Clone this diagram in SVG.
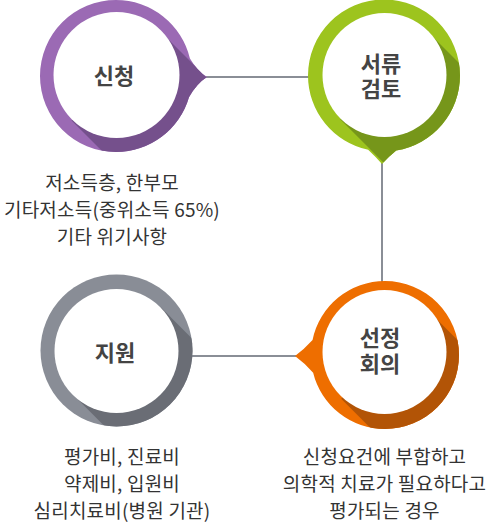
<svg xmlns="http://www.w3.org/2000/svg" width="490" height="523" viewBox="0 0 490 523">
<style>
.lbl{font-family:"Noto Sans CJK KR","Noto Sans",sans-serif;font-weight:700;font-size:22px;fill:#444;text-anchor:middle}
.desc{font-family:"Noto Sans CJK KR","Noto Sans",sans-serif;font-weight:400;font-size:19px;letter-spacing:0.2px;fill:#333;text-anchor:middle}
.conn{stroke:#8a8e96;stroke-width:2;fill:none}
.inner{fill:#fff}
</style>
<defs>
<clipPath id="c1"><circle cx="116" cy="76" r="76"/><path d="M188,55 Q196,70 207,77 Q196,84 188,99 Z"/></clipPath>
<clipPath id="c2"><circle cx="384" cy="75.5" r="76"/><path d="M364,146 Q374,155 382,164 Q390,155 402,146 Z"/></clipPath>
<clipPath id="c3"><circle cx="116.5" cy="350.5" r="76"/></clipPath>
<clipPath id="c4"><circle cx="385" cy="355" r="74"/><path d="M316,336 Q306,348 295,356 Q306,364 316,376 Z"/></clipPath>
</defs>
<g id="connectors">
<line class="conn" x1="205" y1="77" x2="310" y2="77"/>
<line class="conn" x1="382" y1="162" x2="382" y2="284"/>
<line class="conn" x1="190" y1="356" x2="297" y2="356"/>
</g>
<g id="node-apply">
<g clip-path="url(#c1)">
<rect x="0" y="0" width="240" height="170" fill="#9b6ab4"/>
<polygon points="160.5,31.5 360.5,231.5 271.5,320.5 71.5,120.5" fill="#75508c"/>
</g>
<circle class="inner" cx="116.5" cy="75" r="63"/>
<text class="lbl" x="114" y="84">신청</text>
</g>
<g id="node-review">
<g clip-path="url(#c2)">
<rect x="290" y="0" width="200" height="180" fill="#9dc41e"/>
<polygon points="427.8,31.7 627.8,231.7 540.2,319.3 340.2,119.3" fill="#76961a"/>
</g>
<circle class="inner" cx="384.5" cy="75" r="62"/>
<text class="lbl"><tspan x="381" y="72">서류</tspan><tspan x="381" y="97">검토</tspan></text>
</g>
<g id="node-support">
<g clip-path="url(#c3)">
<rect x="30" y="260" width="180" height="180" fill="#898d96"/>
<polygon points="160.3,306.7 360.3,506.7 272.7,594.3 72.7,394.3" fill="#6a6d75"/>
</g>
<circle class="inner" cx="116.5" cy="351" r="62"/>
<text class="lbl" x="115" y="361">지원</text>
</g>
<g id="node-meeting">
<g clip-path="url(#c4)">
<rect x="280" y="270" width="200" height="170" fill="#ee6e00"/>
<polygon points="428.8,311.2 628.8,511.2 541.2,598.8 341.2,398.8" fill="#b25406"/>
</g>
<circle class="inner" cx="384.5" cy="352" r="62"/>
<text class="lbl"><tspan x="380" y="346">선정</tspan><tspan x="380" y="372">회의</tspan></text>
</g>
<g id="desc-apply">
<text class="desc" x="112" y="190">저소득층, 한부모</text>
<text class="desc" x="112" y="217">기타저소득(중위소득 65%)</text>
<text class="desc" x="112" y="244">기타 위기사항</text>
</g>
<g id="desc-support">
<text class="desc" x="122" y="464">평가비, 진료비</text>
<text class="desc" x="122" y="491">약제비, 입원비</text>
<text class="desc" x="122" y="518">심리치료비(병원 기관)</text>
</g>
<g id="desc-meeting">
<text class="desc" x="384.5" y="464">신청요건에 부합하고</text>
<text class="desc" x="384.5" y="491">의학적 치료가 필요하다고</text>
<text class="desc" x="384.5" y="518">평가되는 경우</text>
</g>
</svg>
